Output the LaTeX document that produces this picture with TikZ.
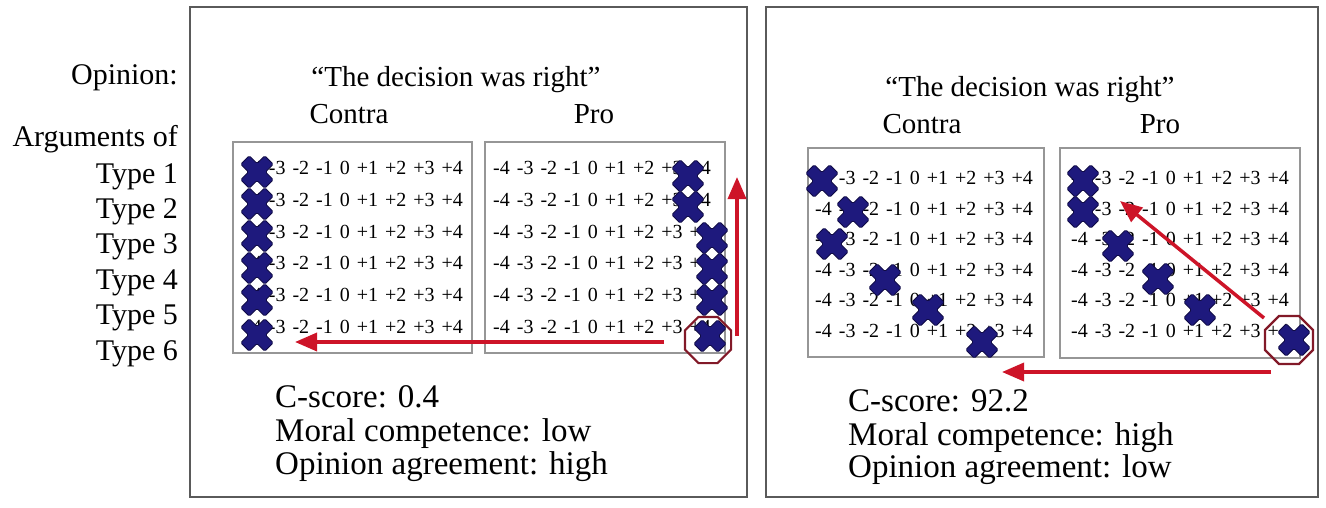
\documentclass[tikz,border=0pt]{standalone}
\usepackage{fontspec}
\setmainfont{Liberation Serif}
\usetikzlibrary{shapes.geometric,arrows.meta}
\definecolor{xfill}{RGB}{30,25,125}
\definecolor{xline}{RGB}{15,10,70}
\definecolor{arr}{RGB}{205,20,40}
\definecolor{octc}{RGB}{130,25,40}
\definecolor{boxc}{RGB}{90,90,90}
\definecolor{inboxc}{RGB}{150,150,150}
\tikzset{
  outerbox/.style={draw=boxc,line width=1.5pt},
  innerbox/.style={draw=inboxc,line width=1.2pt},
  rowtxt/.style={anchor=west,inner sep=0pt,font=\fontsize{20}{22}\selectfont},
  head/.style={anchor=base,inner sep=0pt,font=\fontsize{29}{33}\selectfont},
  lab/.style={anchor=base east,inner sep=0pt,font=\fontsize{30}{33}\selectfont},
  res/.style={anchor=base west,inner sep=0pt,font=\fontsize{33}{36}\selectfont},
  oct/.style={draw=octc,line width=2.2pt,regular polygon,regular polygon sides=8,inner sep=0pt},
  redarrow/.style={draw=arr,line width=3.5pt,-{Triangle[length=22pt,width=18pt]}},
  xm/.pic={\filldraw[fill=xfill,draw=xline,line width=0.8pt,rounded corners=1.5pt,rotate=45]
    (-17,-6)--(-6,-6)--(-6,-17)--(6,-17)--(6,-6)--(17,-6)--(17,6)--(6,6)--(6,17)--(-6,17)--(-6,6)--(-17,6)--cycle;}
}
\newcommand{\nums}{\spaceskip=7pt\relax -4 -3 -2 -1 0 +1 +2 +3 +4}
\begin{document}
\begin{tikzpicture}[x=1pt,y=-1pt]
\useasboundingbox[fill=white] (0,0) rectangle (1326,507);
% outer boxes
\draw[outerbox] (190,7) rectangle (747,497);
\draw[outerbox] (766,7) rectangle (1318,497);
% left labels
\node[lab] (op) at (178,84) {Opinion:};
\node[lab] (argof) at (178,146) {Arguments of};
\foreach \i in {1,...,6}{
  \node[lab] (t\i) at (178,{183+35.4*(\i-1)}) {Type \i};
}
% headers
\node[head] (lq) at (456,86) {“The decision was right”};
\node[head] (lcon) at (349,123) {Contra};
\node[head] (lpro) at (594,123) {Pro};
\node[head] (rq) at (1030,96) {“The decision was right”};
\node[head] (rcon) at (922,133) {Contra};
\node[head] (rpro) at (1160,133) {Pro};
% inner boxes
\draw[innerbox] (233,142) rectangle (472,353);
\draw[innerbox] (485,142) rectangle (725,353);
\draw[innerbox] (808,148) rectangle (1044,357);
\draw[innerbox] (1060,148) rectangle (1300,358);
% number rows
\foreach \i in {1,...,6}{
  \node[rowtxt] (lc\i) at (245,{168+31.8*(\i-1)}) {\nums};
  \node[rowtxt] (lp\i) at (493,{168+31.8*(\i-1)}) {\nums};
  \node[rowtxt] (rc\i) at (815,{178+30.5*(\i-1)}) {\nums};
  \node[rowtxt] (rp\i) at (1071,{178+30.5*(\i-1)}) {\nums};
}
% crosses left contra
\foreach \i/\y in {1/172,2/204,3/236,4/268,5/300,6/335}{
  \coordinate (xlc\i) at (257,\y);
  \pic at (xlc\i) {xm};
}
% crosses left pro
\foreach \i/\x/\y in {1/688/176,2/688/207,3/712/238,4/712/269,5/712/300,6/710/336}{
  \coordinate (xlp\i) at (\x,\y);
  \pic at (xlp\i) {xm};
}
% crosses right contra
\foreach \i/\x/\y in {1/822/181,2/853/212,3/832/244,4/885/280,5/928/310,6/982/342}{
  \coordinate (xrc\i) at (\x,\y);
  \pic at (xrc\i) {xm};
}
% crosses right pro
\foreach \i/\x/\y in {1/1083/181,2/1083/212,3/1118/246,4/1158/279,5/1200/310,6/1294/340}{
  \coordinate (xrp\i) at (\x,\y);
  \pic at (xrp\i) {xm};
}
% octagons
\node[oct,minimum size=50pt] (octl) at (708,340) {};
\node[oct,minimum size=52pt] (octr) at (1289,340) {};
% arrows left
\coordinate (lvs) at (737,336);
\coordinate (lve) at (737,177);
\draw[redarrow] (lvs) -- (lve);
\coordinate (lhs) at (664,342);
\coordinate (lhe) at (295,342);
\draw[redarrow] (lhs) -- (lhe);
% arrows right
\coordinate (rds) at (1264,318);
\coordinate (rde) at (1120,201);
\draw[redarrow] (rds) -- (rde);
\coordinate (rhs) at (1271,372);
\coordinate (rhe) at (1002,372);
\draw[redarrow] (rhs) -- (rhe);
% results
\node[res] (lr1) at (275,407) {C-score: 0.4};
\node[res] (lr2) at (275,441) {Moral competence: low};
\node[res] (lr3) at (275,474) {Opinion agreement: high};
\node[res] (rr1) at (848,411) {C-score: 92.2};
\node[res] (rr2) at (848,445) {Moral competence: high};
\node[res] (rr3) at (848,477) {Opinion agreement: low};
\end{tikzpicture}
\end{document}
